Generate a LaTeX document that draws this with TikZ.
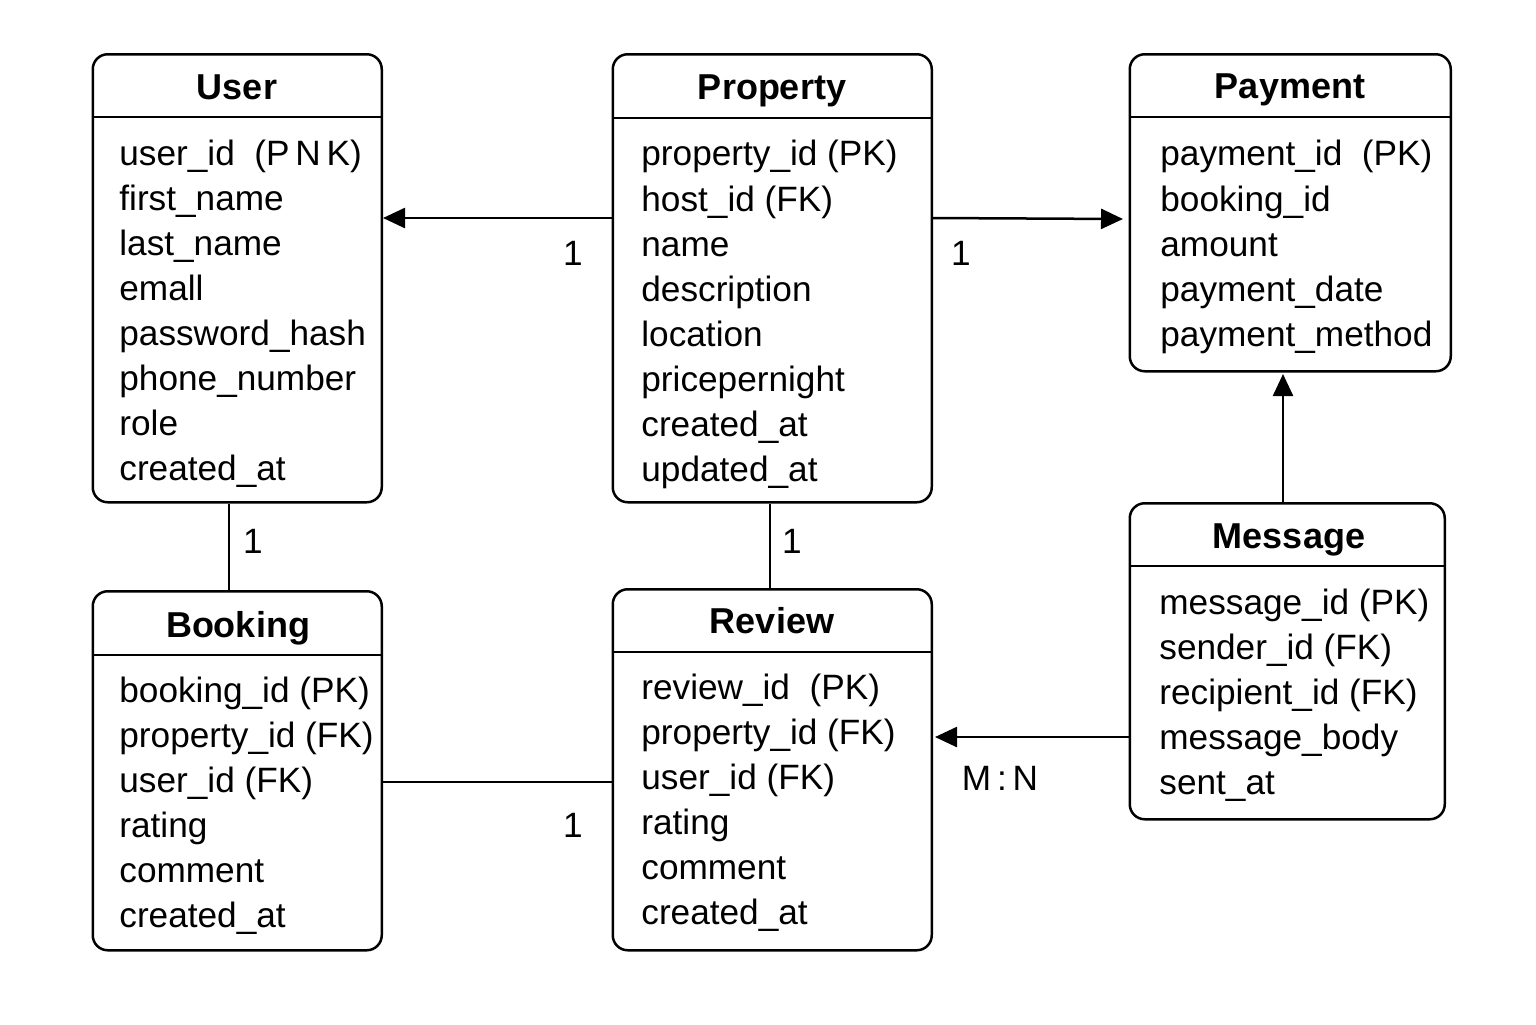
\documentclass[tikz,border=0pt]{standalone}
\usepackage{fontspec}
\setmainfont{Liberation Sans}
\usetikzlibrary{arrows.meta}
\begin{document}
\begin{tikzpicture}[x=0.5pt,y=-0.5pt,
  box/.style={draw,line width=1.25pt,rounded corners=7.5pt,inner sep=0pt,anchor=north west},
  sep/.style={line width=1.1pt},
  ttl/.style={anchor=base,font=\fontsize{18}{20}\selectfont\bfseries,inner sep=0pt},
  attr/.style={anchor=base west,font=\fontsize{17.6}{20}\selectfont,inner sep=0pt},
  lbl/.style={anchor=base,font=\fontsize{17.6}{20}\selectfont,inner sep=0pt},
  conn/.style={line width=1.25pt},
  arr/.style={line width=1.25pt,-{Triangle[length=11pt,width=10pt]}}]
\useasboundingbox (0,0) rectangle (1536,1024);
% boxes
\node[box,minimum width=144.5pt,minimum height=224pt] (user) at (91.5,53) {};
\node[box,minimum width=159.5pt,minimum height=224pt] (property) at (611.5,53) {};
\node[box,minimum width=160.5pt,minimum height=158.5pt] (payment) at (1128.5,53) {};
\node[box,minimum width=144.5pt,minimum height=179.5pt] (booking) at (91.5,590) {};
\node[box,minimum width=159.5pt,minimum height=180.5pt] (review) at (611.5,588) {};
\node[box,minimum width=157.5pt,minimum height=158pt] (message) at (1128.5,502) {};
% header separators
\draw[sep] (user.west |- 0,117) -- (user.east |- 0,117);
\draw[sep] (property.west |- 0,118) -- (property.east |- 0,118);
\draw[sep] (payment.west |- 0,117) -- (payment.east |- 0,117);
\draw[sep] (booking.west |- 0,655) -- (booking.east |- 0,655);
\draw[sep] (review.west |- 0,652) -- (review.east |- 0,652);
\draw[sep] (message.west |- 0,566) -- (message.east |- 0,566);
% titles
\node[ttl] (tuser) at (237,99) {User};
\node[ttl] (tproperty) at (772,99) {Property};
\node[ttl] (tpayment) at (1290,98) {Payment};
\node[ttl] (tbooking) at (238,637) {Booking};
\node[ttl] (treview) at (772,633) {Review};
\node[ttl] (tmessage) at (1289,548) {Message};
% User attributes
\node[attr] (u1) at (119,165) {user\_id\ \ (P\,N\,K)};
\node[attr] (u2) at (119,210) {first\_name};
\node[attr] (u3) at (119,255) {last\_name};
\node[attr] (u4) at (119,300) {emall};
\node[attr] (u5) at (119,345) {password\_hash};
\node[attr] (u6) at (119,390) {phone\_number};
\node[attr] (u7) at (119,435) {role};
\node[attr] (u8) at (119,480) {created\_at};
% Property attributes
\node[attr] (p1) at (641,165) {property\_id (PK)};
\node[attr] (p2) at (641,211) {host\_id (FK)};
\node[attr] (p3) at (641,256) {name};
\node[attr] (p4) at (641,301) {description};
\node[attr] (p5) at (641,346) {location};
\node[attr] (p6) at (641,391) {pricepernight};
\node[attr] (p7) at (641,436) {created\_at};
\node[attr] (p8) at (641,481) {updated\_at};
% Payment attributes
\node[attr] (y1) at (1160,165) {payment\_id\ \ (PK)};
\node[attr] (y2) at (1160,211) {booking\_id};
\node[attr] (y3) at (1160,256) {amount};
\node[attr] (y4) at (1160,301) {payment\_date};
\node[attr] (y5) at (1160,346) {payment\_method};
% Booking attributes
\node[attr] (b1) at (119,702) {booking\_id (PK)};
\node[attr] (b2) at (119,747) {property\_id (FK)};
\node[attr] (b3) at (119,792) {user\_id (FK)};
\node[attr] (b4) at (119,837) {rating};
\node[attr] (b5) at (119,882) {comment};
\node[attr] (b6) at (119,927) {created\_at};
% Review attributes
\node[attr] (r1) at (641,699) {review\_id\ \ (PK)};
\node[attr] (r2) at (641,744) {property\_id (FK)};
\node[attr] (r3) at (641,789) {user\_id (FK)};
\node[attr] (r4) at (641,834) {rating};
\node[attr] (r5) at (641,879) {comment};
\node[attr] (r6) at (641,924) {created\_at};
% Message attributes
\node[attr] (m1) at (1159,614) {message\_id (PK)};
\node[attr] (m2) at (1159,659) {sender\_id (FK)};
\node[attr] (m3) at (1159,704) {recipient\_id (FK)};
\node[attr] (m4) at (1159,749) {message\_body};
\node[attr] (m5) at (1159,794) {sent\_at};
% connectors
\coordinate (userin) at (383,218);
\coordinate (payin) at (1123,219);
\coordinate (revin) at (935,737);
\coordinate (paybot) at (1283,374);
\draw[arr] (property.west |- 0,218) -- (userin);
\draw[arr] (property.east |- 0,218) -- (payin);
\draw[conn] (user.south -| 229,0) -- (booking.north -| 229,0);
\draw[conn] (property.south -| 770,0) -- (review.north -| 770,0);
\draw[conn] (booking.east |- 0,782) -- (review.west |- 0,782);
\draw[arr] (message.west |- 0,737) -- (revin);
\draw[arr] (message.north -| 1283,0) -- (paybot);
% labels
\node[lbl] (l1) at (573,265) {1};
\node[lbl] (l2) at (961,265) {1};
\node[lbl] (l3) at (253,553) {1};
\node[lbl] (l4) at (792,553) {1};
\node[lbl] (l5) at (573,837) {1};
\node[lbl] (l6) at (1000,790) {M\,:\,N};
\end{tikzpicture}
\end{document}
